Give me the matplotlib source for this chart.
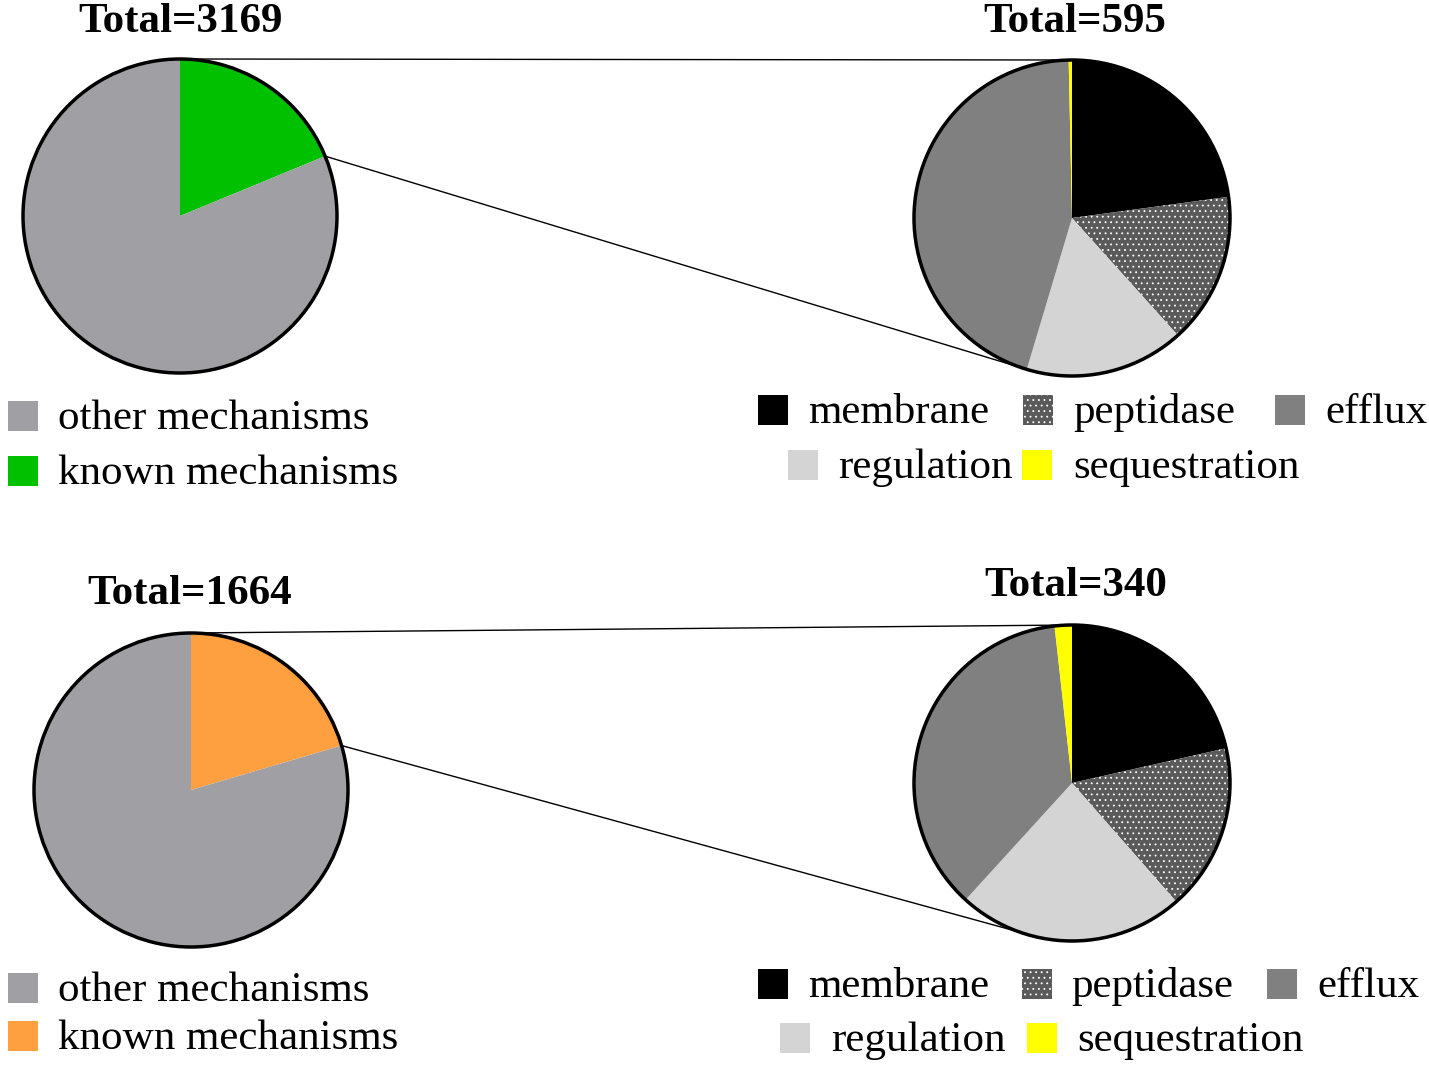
"""
Two nested pie charts: share of known resistance mechanisms and their breakdown.
"""

import matplotlib
matplotlib.use("Agg")
import matplotlib.pyplot as plt
from matplotlib.patches import Circle, Rectangle, ConnectionPatch
import math

plt.rcParams['font.family'] = ['Liberation Serif', 'DejaVu Serif']
plt.rcParams['hatch.linewidth'] = 0.6

# data
overview_labels = ['known mechanisms', 'other mechanisms']
overview_top = [595, 2574]        # Total=3169
overview_bottom = [340, 1324]     # Total=1664
detail_labels = ['membrane', 'peptidase', 'regulation', 'efflux', 'sequestration']
detail_top = [136, 92, 97, 268, 2]      # Total=595
detail_bottom = [73, 58, 79, 124, 6]    # Total=340

known_colors = {'top': '#00c000', 'bottom': '#ffa040'}
other_color = '#a0a0a4'
detail_colors = ['#000000', '#5a5a5a', '#d4d4d4', '#808080', '#ffff00']
detail_hatch = [None, '...', None, None, None]

W, H = 1429, 1071
fig = plt.figure(figsize=(W / 100, H / 100), dpi=100)


def px(x, y):
    """pixel position (from top left) to figure fraction"""
    return x / W, 1 - y / H


def pie_axes(cx, cy, r):
    x0, y1 = px(cx - r, cy - r)
    ax = fig.add_axes([x0, y1 - 2 * r / H, 2 * r / W, 2 * r / H])
    return ax


def draw_pie(ax, values, colors, hatches=None):
    wedges, _ = ax.pie(values, colors=colors, startangle=90, counterclock=False,
                       radius=1, wedgeprops=dict(linewidth=0))
    if hatches:
        for w, h in zip(wedges, hatches):
            if h:
                w.set_hatch(h)
                w.set_edgecolor('white')
                w.set_linewidth(0)
    ax.add_patch(Circle((0, 0), 1, fill=False, lw=2.5, ec='black', clip_on=False))
    ax.set_xlim(-1, 1)
    ax.set_ylim(-1, 1)
    ax.set_aspect('equal')
    ax.axis('off')


def legend_item(x, y, label, color, hatch=None, text_x=None):
    fx, fy = px(x, y + 15)
    fig.patches.append(Rectangle((fx, fy), 30 / W, 30 / H, transform=fig.transFigure,
                                 facecolor=color, edgecolor='white' if hatch else 'none',
                                 hatch=hatch, linewidth=0))
    tx, ty = px(text_x if text_x else x + 50, y + 3)
    fig.text(tx, ty, label, fontsize=31, va='center', ha='left')


def connect(ax_left, ax_right, frac, end_angle):
    con = ConnectionPatch(xyA=(0, 1), coordsA=ax_left.transData,
                          xyB=(0, 1), coordsB=ax_right.transData, lw=1, color='black')
    fig.add_artist(con)
    a = math.radians(90 - 360 * frac)
    b = math.radians(end_angle)
    con = ConnectionPatch(xyA=(math.cos(a), math.sin(a)), coordsA=ax_left.transData,
                          xyB=(math.cos(b), math.sin(b)), coordsB=ax_right.transData,
                          lw=1, color='black')
    fig.add_artist(con)


panels = [
    dict(key='top', over=overview_top, det=detail_top, left=(180, 216, 157), right=(1072, 218, 158),
         t_left=(181, 22), t_right=(1075, 22), end=-106,
         leg_left=(416, 471), leg_right=[(758, 410, 808), (1023, 410, 1073), (1275, 410, 1325),
                                         (788, 465, 838), (1022, 465, 1073)]),
    dict(key='bottom', over=overview_bottom, det=detail_bottom, left=(191, 790, 157),
         right=(1072, 783, 158), t_left=(190, 594), t_right=(1076, 586), end=-109,
         leg_left=(988, 1036), leg_right=[(758, 984, 808), (1022, 984, 1071), (1267, 984, 1317),
                                          (780, 1038, 831), (1027, 1038, 1077)]),
]

for p in panels:
    axl = pie_axes(*p['left'])
    draw_pie(axl, p['over'], [known_colors[p['key']], other_color])
    axr = pie_axes(*p['right'])
    draw_pie(axr, p['det'], detail_colors, detail_hatch)

    tx, ty = px(*p['t_left'])
    fig.text(tx, ty, f'Total={sum(p["over"])}', fontsize=31, fontweight='bold',
             ha='center', va='center')
    tx, ty = px(*p['t_right'])
    fig.text(tx, ty, f'Total={sum(p["det"])}', fontsize=31, fontweight='bold',
             ha='center', va='center')

    connect(axl, axr, p['over'][0] / sum(p['over']), p['end'])

    # left legend: other first, then known
    legend_item(8, p['leg_left'][0], overview_labels[1], other_color)
    legend_item(8, p['leg_left'][1], overview_labels[0], known_colors[p['key']])

    # right legend order: membrane, peptidase, efflux / regulation, sequestration
    for (x, y, tx_), i in zip(p['leg_right'], [0, 1, 3, 2, 4]):
        legend_item(x, y, detail_labels[i], detail_colors[i], detail_hatch[i], text_x=tx_)

fig.savefig('out.png', dpi=100)
